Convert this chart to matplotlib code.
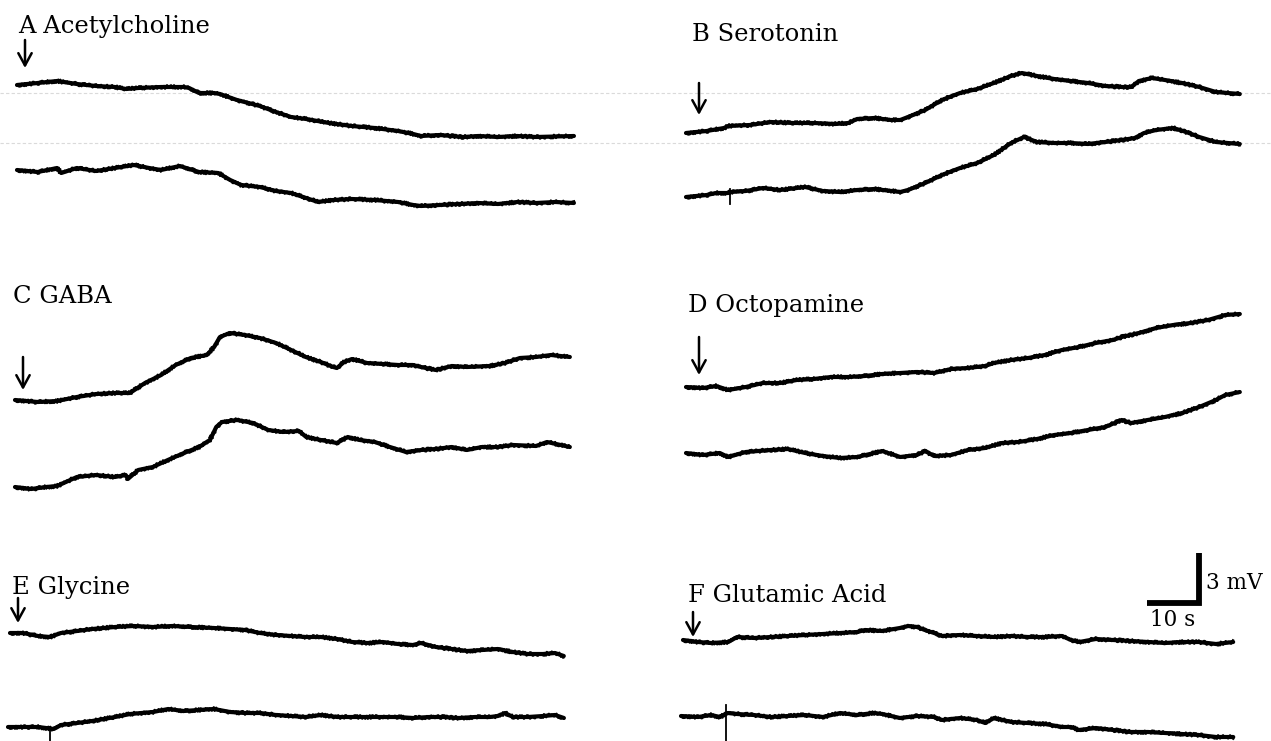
import numpy as np
import matplotlib.pyplot as plt

plt.rcParams['font.family'] = ['DejaVu Serif']

# membrane potential traces, time in s after drug application, change in mV
a_upper_t = [0, 4.0, 7.7, 11.5, 15.2, 18.8, 21.0, 23.3, 27.7, 32.1, 33.1, 35.0, 37.9, 39.0, 42.3, 46.7,
             49.8, 52.7, 55.6, 60.0, 64.4, 68.8, 73.3, 76.2, 77.7, 81.3, 85.8, 88.7, 92.5, 96.2, 99.8, 107.1]
a_upper_mv = [0, 0.12, 0.24, 0.06, -0.06, -0.12, -0.24, -0.18, -0.12, -0.12, -0.18, -0.48, -0.48, -0.54, -0.90, -1.26,
              -1.62, -1.92, -2.04, -2.28, -2.46, -2.58, -2.76, -2.94, -3.06, -3.00, -3.12, -3.06, -3.12, -3.06, -3.12, -3.06]
a_lower_t = [0, 4.0, 7.7, 8.5, 11.5, 15.2, 18.8, 22.5, 25.4, 27.7, 31.3, 35.0, 38.7, 41.0, 43.1, 46.7, 49.8,
             52.7, 55.6, 57.9, 60.8, 64.4, 68.8, 73.3, 76.2, 77.7, 81.3, 85.0, 88.7, 92.5, 96.2, 99.8, 103.5, 107.1]
a_lower_mv = [0, -0.12, 0.12, -0.18, 0.12, -0.06, 0.12, 0.30, 0.12, 0, 0.24, -0.12, -0.18, -0.60, -0.90, -1.02, -1.26,
              -1.38, -1.68, -1.92, -1.80, -1.74, -1.80, -1.92, -2.10, -2.16, -2.10, -2.04, -1.98, -2.04, -1.92, -1.98, -1.92, -1.98]

b_upper_t = [0, 4.0, 7.3, 8.1, 12.3, 16.3, 20.6, 24.6, 28.7, 31.2, 32.9, 36.2, 39.4, 41.2, 42.7, 46.0, 49.2, 52.7,
             56.0, 59.2, 62.5, 64.6, 67.5, 70.8, 74.0, 77.3, 80.6, 83.8, 85.6, 87.1, 89.6, 92.1, 95.4, 98.7, 101.9, 106.5]
b_upper_mv = [0, 0.12, 0.30, 0.42, 0.48, 0.66, 0.60, 0.60, 0.54, 0.60, 0.84, 0.90, 0.78, 0.78, 0.96, 1.38, 1.98, 2.40,
              2.64, 3.00, 3.42, 3.60, 3.42, 3.24, 3.12, 3.00, 2.82, 2.76, 2.76, 3.12, 3.30, 3.18, 3.00, 2.76, 2.46, 2.34]
b_lower_t = [0, 4.0, 5.8, 8.1, 8.5, 11.5, 14.8, 18.1, 22.9, 26.3, 29.6, 32.9, 36.2, 41.2, 42.7, 46.0, 49.2, 52.7,
             56.0, 59.2, 62.5, 65.0, 67.5, 70.8, 74.0, 77.3, 80.6, 83.8, 86.3, 88.1, 90.4, 93.7, 96.2, 98.7, 101.9, 106.5]
b_lower_mv = [0, 0.12, 0.24, 0.24, 0.30, 0.36, 0.54, 0.42, 0.60, 0.36, 0.30, 0.42, 0.48, 0.30, 0.42, 0.84, 1.32, 1.74,
              2.04, 2.52, 3.24, 3.60, 3.30, 3.24, 3.24, 3.18, 3.30, 3.42, 3.54, 3.84, 4.02, 4.14, 3.90, 3.60, 3.30, 3.18]

c_upper_t = [0, 4.4, 8.1, 11.9, 15.6, 19.2, 22.1, 25.0, 28.1, 30.9, 33.8, 36.9, 38.3, 39.4, 41.3, 44.2, 47.1, 50.2, 53.1,
             55.9, 58.8, 61.2, 61.9, 63.3, 64.8, 67.7, 70.8, 73.7, 76.5, 78.1, 80.9, 84.0, 86.9, 91.3, 94.2, 97.1, 100.2, 103.1, 106.7]
c_upper_mv = [0, -0.12, -0.06, 0.18, 0.36, 0.42, 0.42, 1.02, 1.50, 2.10, 2.52, 2.70, 3.18, 3.78, 4.02, 3.90, 3.72, 3.42, 3.00,
              2.58, 2.28, 1.98, 1.92, 2.28, 2.46, 2.22, 2.16, 2.10, 2.10, 1.98, 1.80, 2.04, 1.98, 2.04, 2.22, 2.52, 2.58, 2.70, 2.58]
c_lower_t = [0, 3.1, 6.0, 8.1, 11.9, 15.6, 19.2, 21.3, 21.7, 23.7, 26.5, 29.4, 32.5, 35.4, 37.5, 38.7, 39.8, 42.7, 45.8, 48.7,
             51.5, 54.6, 56.0, 58.8, 61.9, 64.0, 66.3, 69.2, 72.1, 75.2, 78.1, 80.9, 84.0, 86.9, 89.8, 92.9, 95.8, 100.2, 102.3, 106.7]
c_lower_mv = [0, -0.12, 0, 0.06, 0.60, 0.72, 0.60, 0.72, 0.48, 1.02, 1.20, 1.62, 2.04, 2.40, 2.82, 3.60, 3.90, 4.02, 3.84, 3.42,
              3.30, 3.36, 3.00, 2.82, 2.64, 3.00, 2.82, 2.70, 2.40, 2.10, 2.22, 2.28, 2.40, 2.22, 2.40, 2.40, 2.52, 2.46, 2.70, 2.40]

d_upper_t = [0, 3.3, 5.8, 8.1, 11.5, 14.8, 18.1, 21.3, 24.6, 27.9, 31.2, 34.4, 37.7, 41.2, 44.4, 47.7, 51.0, 54.2,
             57.5, 59.2, 62.5, 65.8, 69.0, 72.3, 75.6, 78.8, 82.1, 83.8, 87.1, 90.4, 93.7, 97.1, 100.4, 103.7, 106.5]
d_upper_mv = [0, -0.06, 0.06, -0.18, 0, 0.24, 0.24, 0.42, 0.48, 0.60, 0.60, 0.66, 0.78, 0.84, 0.90, 0.84, 1.08, 1.14,
              1.26, 1.44, 1.62, 1.74, 1.92, 2.22, 2.40, 2.64, 2.82, 3.00, 3.24, 3.54, 3.72, 3.84, 4.02, 4.32, 4.38]
d_lower_t = [0, 3.3, 6.5, 8.1, 11.5, 16.3, 19.6, 22.9, 26.3, 29.6, 32.9, 36.2, 37.7, 41.2, 44.4, 46.0, 47.7, 51.0,
             54.2, 57.5, 60.8, 64.0, 67.5, 70.8, 74.0, 77.3, 80.6, 83.8, 85.6, 88.8, 92.1, 95.4, 98.7, 101.9, 103.7, 106.5]
d_lower_mv = [0, -0.12, 0, -0.24, 0.06, 0.18, 0.24, 0, -0.18, -0.30, -0.24, 0, 0.12, -0.24, -0.12, 0.12, -0.18, -0.12,
              0.18, 0.30, 0.60, 0.66, 0.84, 1.08, 1.20, 1.38, 1.56, 1.98, 1.80, 1.98, 2.16, 2.40, 2.76, 3.18, 3.48, 3.66]

e_upper_t = [0, 2.5, 5.4, 7.7, 9.8, 12.9, 15.8, 20.2, 23.8, 27.5, 31.2, 34.8, 39.2, 42.3, 45.2, 48.1, 51.2, 54.0, 56.9,
             59.8, 62.9, 65.8, 68.7, 71.7, 74.6, 77.5, 79.0, 81.9, 85.0, 87.9, 90.8, 93.8, 96.7, 99.6, 102.5, 104.8, 106.5]
e_upper_mv = [0, 0, -0.18, -0.24, 0, 0.12, 0.24, 0.36, 0.42, 0.36, 0.42, 0.36, 0.30, 0.24, 0.18, 0, -0.12, -0.18, -0.24,
              -0.24, -0.36, -0.54, -0.60, -0.54, -0.66, -0.72, -0.60, -0.84, -0.96, -1.08, -1.02, -0.96, -1.14, -1.26, -1.26, -1.20, -1.38]
e_lower_t = [0, 2.9, 5.8, 8.8, 10.2, 13.3, 16.2, 20.6, 23.5, 27.9, 30.8, 33.8, 36.7, 39.6, 42.7, 45.6, 48.5, 51.5, 54.4, 57.3,
             60.2, 63.3, 66.2, 69.0, 72.1, 75.0, 77.9, 81.0, 83.8, 86.7, 89.8, 92.7, 94.2, 95.6, 97.1, 100.0, 102.9, 105.2, 106.9]
e_lower_mv = [0, 0, 0, -0.12, 0.12, 0.24, 0.36, 0.60, 0.78, 0.90, 1.08, 0.96, 1.02, 1.08, 0.90, 0.84, 0.84, 0.72, 0.66, 0.60,
              0.72, 0.60, 0.60, 0.60, 0.60, 0.60, 0.54, 0.60, 0.60, 0.54, 0.60, 0.60, 0.66, 0.84, 0.60, 0.60, 0.66, 0.72, 0.54]

f_upper_t = [0, 2.9, 5.4, 8.7, 10.4, 13.7, 16.9, 20.2, 23.5, 26.9, 30.2, 33.5, 35.0, 38.3, 41.7, 43.3, 45.0, 46.5, 48.3,
             49.8, 53.3, 56.5, 59.8, 63.1, 66.3, 69.6, 72.9, 74.6, 76.2, 79.4, 82.7, 86.2, 89.4, 92.7, 96.0, 99.2, 102.5, 105.8]
f_upper_mv = [0, -0.12, -0.18, -0.12, 0.18, 0.12, 0.18, 0.24, 0.30, 0.36, 0.42, 0.48, 0.60, 0.54, 0.72, 0.84, 0.78, 0.60, 0.42,
              0.24, 0.30, 0.24, 0.18, 0.24, 0.18, 0.18, 0.24, 0, -0.12, 0.06, 0, -0.06, -0.12, -0.18, -0.12, -0.12, -0.24, -0.12]
f_lower_t = [0, 3.3, 5.8, 7.5, 9.0, 10.8, 14.0, 17.3, 20.6, 23.8, 27.3, 30.6, 33.8, 37.1, 38.7, 42.1, 45.4, 48.7, 50.2,
             53.7, 56.9, 58.5, 60.2, 63.5, 66.7, 70.0, 73.3, 75.0, 76.5, 79.8, 83.1, 86.5, 89.8, 93.1, 96.3, 99.6, 102.9, 106.2]
f_lower_mv = [0, -0.06, 0.06, -0.06, 0.18, 0.12, 0.06, -0.06, 0, 0.06, -0.06, 0.18, 0.06, 0.18, 0.12, -0.12, 0, -0.06, -0.24,
              -0.12, -0.24, -0.42, -0.12, -0.36, -0.42, -0.48, -0.66, -0.66, -0.84, -0.72, -0.84, -0.96, -0.96, -1.02, -1.08, -1.14, -1.26, -1.26]

# stimulus artefacts: (time s, top mV, bottom mV) relative to the trace start
b_lower_artefact = (8.5, 0.45, -0.40)
e_lower_artefact = (8.1, 0.0, -1.4)
f_lower_artefact = (8.7, 0.66, -1.7)

panel_names = ['A Acetylcholine', 'B Serotonin', 'C GABA', 'D Octopamine', 'E Glycine', 'F Glutamic Acid']
scale_s = 10
scale_mv = 3

# page geometry (pixels of the scanned figure)
W, H = 1271, 741
PX_PER_S = 5.2
PX_PER_MV = 50 / 3


def px(x, y):
    return x / PX_PER_S, (H - y) / PX_PER_MV


traces = [
    (a_upper_t, a_upper_mv, (17, 85), None),
    (a_lower_t, a_lower_mv, (17, 170), None),
    (b_upper_t, b_upper_mv, (686, 133), None),
    (b_lower_t, b_lower_mv, (686, 197), b_lower_artefact),
    (c_upper_t, c_upper_mv, (15, 400), None),
    (c_lower_t, c_lower_mv, (15, 487), None),
    (d_upper_t, d_upper_mv, (686, 387), None),
    (d_lower_t, d_lower_mv, (686, 453), None),
    (e_upper_t, e_upper_mv, (10, 633), None),
    (e_lower_t, e_lower_mv, (8, 727), e_lower_artefact),
    (f_upper_t, f_upper_mv, (683, 640), None),
    (f_lower_t, f_lower_mv, (681, 716), f_lower_artefact),
]

# label baseline positions and arrow (x, top, tip) in pixels
label_pos = [(18, 33), (692, 41), (13, 303), (688, 312), (12, 594), (688, 602)]
arrow_pos = [(25, 40, 68), (699, 83, 115), (23, 357, 390), (699, 337, 375), (18, 598, 623), (693, 612, 637)]

fig = plt.figure(figsize=(W / 100, H / 100), dpi=100)
ax = fig.add_axes([0, 0, 1, 1])
ax.set_xlim(0, W / PX_PER_S)
ax.set_ylim(0, H / PX_PER_MV)
ax.axis('off')

# faint ruled lines showing through from the other side of the page
for yy in (93, 143):
    ax.axhline(px(0, yy)[1], color='#dadada', lw=0.8, ls=(0, (3, 2)), zorder=0)

for t, mv, origin, art in traces:
    t0, v0 = px(*origin)
    x = np.array(t) + t0
    y = np.array(mv) + v0
    ax.plot(x, y, color='black', lw=3.0, solid_joinstyle='round', solid_capstyle='round')
    # ragged pen edge of the chart recorder
    rough, = ax.plot(x, y, color='black', lw=1.6, solid_joinstyle='round')
    rough.set_sketch_params(scale=1.8, length=2.5, randomness=4)
    if art is not None:
        ax.plot([t0 + art[0]] * 2, [v0 + art[1], v0 + art[2]], color='black', lw=1.3)

for name, (lx, ly) in zip(panel_names, label_pos):
    ax.text(*px(lx, ly), name, fontsize=17.5, ha='left', va='baseline', color='black')

for x, ytop, ytip in arrow_pos:
    ax.annotate('', xy=px(x, ytip), xytext=px(x, ytop),
                arrowprops=dict(arrowstyle='->,head_length=0.55,head_width=0.3', lw=1.8,
                                color='black', shrinkA=0, shrinkB=0, mutation_scale=16))

# scale bar
cx, cy = px(1199, 603)
ax.plot([cx - scale_s, cx, cx], [cy, cy, cy + scale_mv], color='black', lw=4.2,
        solid_joinstyle='miter', solid_capstyle='butt')
ax.text(cx + 1.3, cy + scale_mv * 0.4, f'{scale_mv} mV', fontsize=15.5, ha='left', va='center')
ax.text(cx - scale_s / 2, cy - 1.0, f'{scale_s} s', fontsize=15.5, ha='center', va='center')

fig.savefig('out.png', dpi=100, facecolor='white')
